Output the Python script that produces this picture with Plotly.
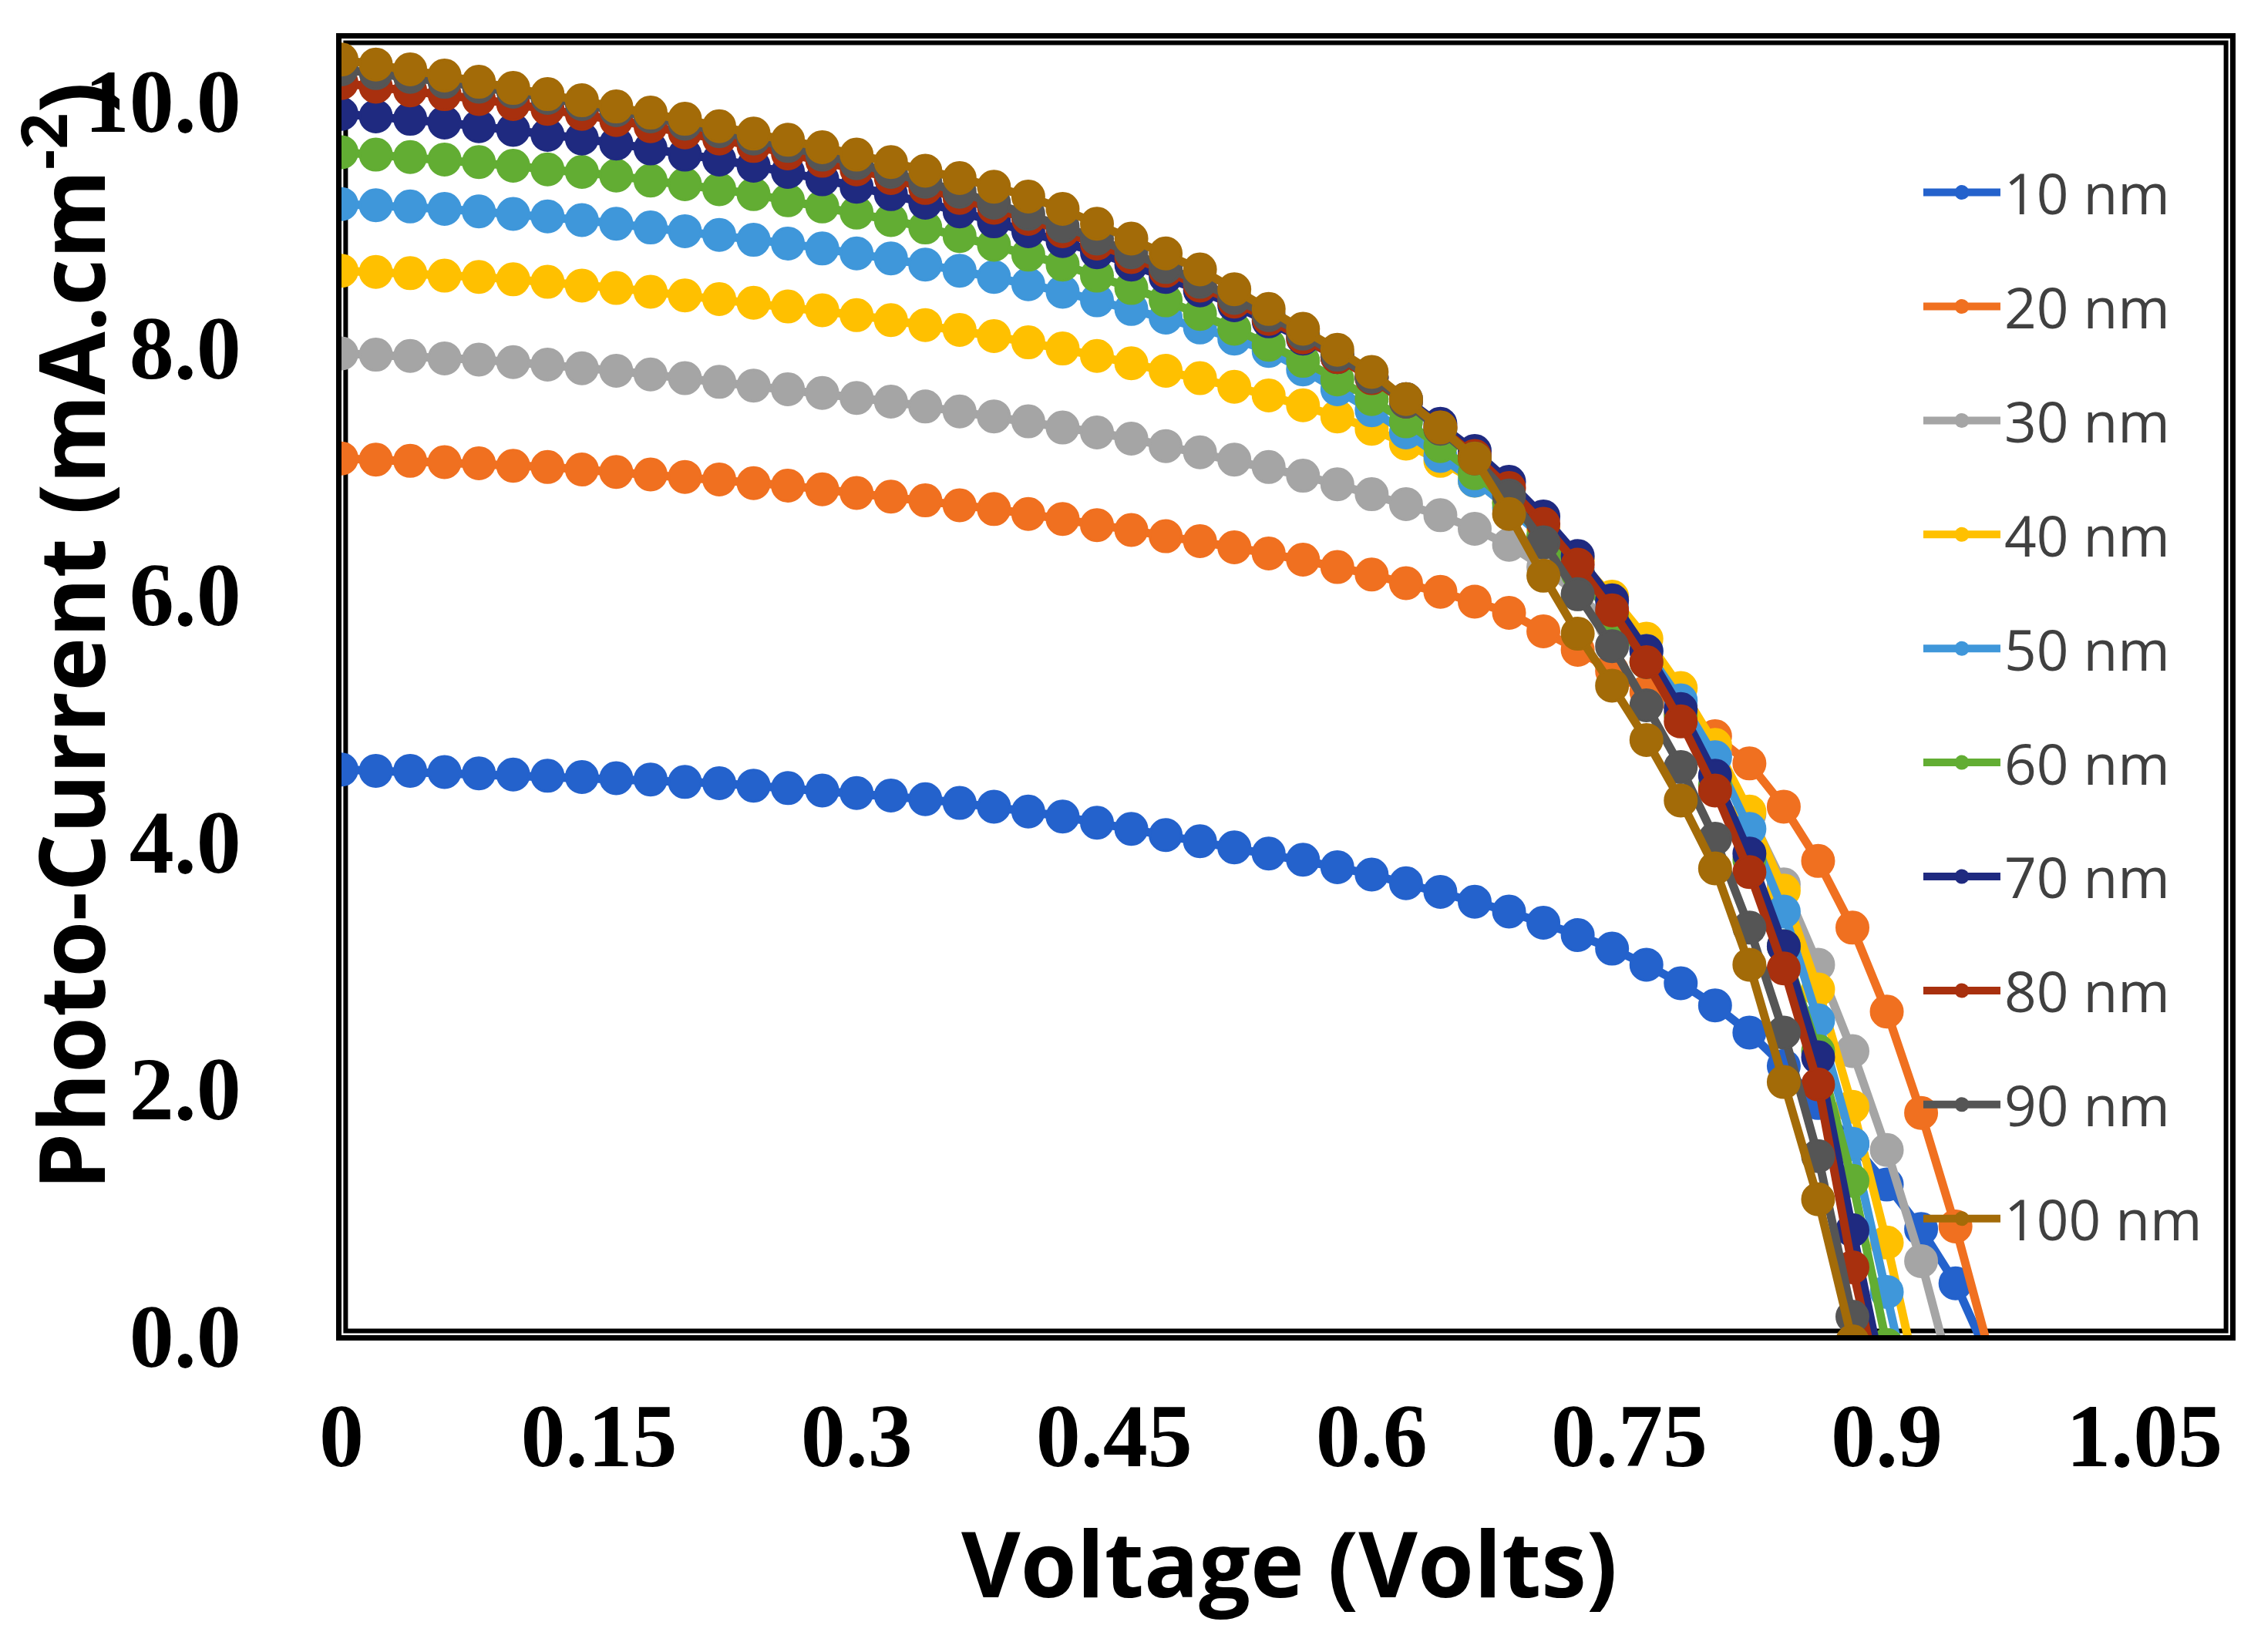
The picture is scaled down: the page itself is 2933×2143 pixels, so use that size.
import plotly.graph_objects as go

# voltage grid (V)
voltage = [0.00, 0.02, 0.04, 0.06, 0.08, 0.10, 0.12, 0.14, 0.16, 0.18,
           0.20, 0.22, 0.24, 0.26, 0.28, 0.30, 0.32, 0.34, 0.36, 0.38,
           0.40, 0.42, 0.44, 0.46, 0.48, 0.50, 0.52, 0.54, 0.56, 0.58,
           0.60, 0.62, 0.64, 0.66, 0.68, 0.70, 0.72, 0.74, 0.76, 0.78,
           0.80, 0.82, 0.84, 0.86, 0.88, 0.90, 0.92, 0.94, 0.96]

# photo-current (mA/cm2)
j_10nm = [4.58, 4.57, 4.57, 4.56, 4.55, 4.54, 4.53, 4.52, 4.51, 4.50,
          4.48, 4.47, 4.45, 4.43, 4.41, 4.39, 4.37, 4.34, 4.31, 4.28,
          4.24, 4.20, 4.15, 4.10, 4.05, 4.00, 3.95, 3.90, 3.85, 3.79,
          3.73, 3.66, 3.59, 3.51, 3.43, 3.34, 3.24, 3.13, 3.00, 2.85,
          2.67, 2.45, 2.18, 1.88, 1.55, 1.22, 0.86, 0.42, -0.20]
j_20nm = [7.10, 7.09, 7.08, 7.07, 7.06, 7.04, 7.03, 7.01, 6.99, 6.97,
          6.95, 6.93, 6.90, 6.88, 6.85, 6.82, 6.79, 6.76, 6.72, 6.69,
          6.65, 6.61, 6.56, 6.52, 6.47, 6.43, 6.38, 6.33, 6.28, 6.22,
          6.16, 6.09, 6.02, 5.94, 5.85, 5.70, 5.55, 5.38, 5.21, 5.03,
          4.85, 4.63, 4.28, 3.84, 3.30, 2.62, 1.80, 0.88, -0.15]
j_30nm = [7.95, 7.94, 7.93, 7.91, 7.90, 7.88, 7.86, 7.83, 7.81, 7.78,
          7.75, 7.72, 7.69, 7.66, 7.63, 7.59, 7.56, 7.52, 7.48, 7.44,
          7.40, 7.35, 7.31, 7.26, 7.20, 7.15, 7.09, 7.03, 6.96, 6.89,
          6.81, 6.73, 6.64, 6.53, 6.40, 6.22, 6.00, 5.75, 5.45, 5.10,
          4.70, 4.22, 3.65, 3.00, 2.30, 1.50, 0.60, -0.45]
j_40nm = [8.62, 8.61, 8.60, 8.58, 8.57, 8.55, 8.53, 8.50, 8.48, 8.45,
          8.42, 8.39, 8.36, 8.33, 8.30, 8.26, 8.22, 8.18, 8.14, 8.09,
          8.04, 7.99, 7.93, 7.87, 7.81, 7.75, 7.68, 7.61, 7.53, 7.44,
          7.34, 7.22, 7.08, 6.92, 6.74, 6.53, 6.28, 5.98, 5.64, 5.24,
          4.78, 4.24, 3.60, 2.80, 1.85, 0.75, -0.50]
j_50nm = [9.16, 9.15, 9.14, 9.12, 9.10, 9.08, 9.06, 9.03, 9.00, 8.97,
          8.94, 8.91, 8.87, 8.84, 8.80, 8.76, 8.72, 8.67, 8.62, 8.57,
          8.51, 8.45, 8.38, 8.31, 8.24, 8.16, 8.07, 7.97, 7.82, 7.66,
          7.49, 7.31, 7.12, 6.92, 6.70, 6.46, 6.19, 5.89, 5.54, 5.14,
          4.68, 4.10, 3.43, 2.55, 1.55, 0.35, -0.90]
j_60nm = [9.58, 9.56, 9.54, 9.52, 9.50, 9.47, 9.44, 9.42, 9.39, 9.35,
          9.32, 9.28, 9.24, 9.19, 9.14, 9.09, 9.03, 8.97, 8.90, 8.83,
          8.75, 8.67, 8.58, 8.48, 8.38, 8.27, 8.15, 8.02, 7.89, 7.74,
          7.58, 7.40, 7.20, 6.98, 6.74, 6.47, 6.17, 5.83, 5.45, 5.02,
          4.45, 3.85, 3.15, 2.30, 1.25, -0.08]
j_70nm = [9.89, 9.87, 9.85, 9.82, 9.79, 9.76, 9.72, 9.69, 9.65, 9.61,
          9.56, 9.52, 9.47, 9.42, 9.36, 9.30, 9.24, 9.17, 9.10, 9.02,
          8.94, 8.86, 8.77, 8.67, 8.57, 8.46, 8.34, 8.21, 8.07, 7.92,
          7.76, 7.58, 7.38, 7.16, 6.91, 6.63, 6.31, 5.95, 5.54, 5.07,
          4.53, 3.90, 3.15, 2.25, 0.85, -0.50]
j_80nm = [10.14, 10.11, 10.08, 10.05, 10.01, 9.97, 9.93, 9.89, 9.84, 9.79,
          9.74, 9.69, 9.63, 9.57, 9.51, 9.44, 9.37, 9.29, 9.21, 9.13,
          9.04, 8.94, 8.84, 8.73, 8.62, 8.50, 8.37, 8.23, 8.08, 7.92,
          7.75, 7.56, 7.35, 7.12, 6.86, 6.57, 6.24, 5.87, 5.45, 4.97,
          4.41, 3.75, 2.97, 2.03, 0.55, -0.70]
j_90nm = [10.25, 10.22, 10.19, 10.15, 10.11, 10.07, 10.02, 9.97, 9.92, 9.87,
          9.81, 9.75, 9.69, 9.63, 9.56, 9.49, 9.42, 9.34, 9.26, 9.17,
          9.08, 8.98, 8.88, 8.77, 8.65, 8.53, 8.40, 8.26, 8.11, 7.94,
          7.76, 7.56, 7.34, 7.10, 6.80, 6.42, 6.00, 5.58, 5.10, 4.60,
          4.02, 3.30, 2.45, 1.45, 0.15, -1.00]
j_100nm = [10.33, 10.29, 10.25, 10.20, 10.15, 10.10, 10.05, 10.00, 9.95, 9.90,
           9.85, 9.79, 9.73, 9.68, 9.62, 9.56, 9.50, 9.43, 9.37, 9.30,
           9.22, 9.12, 9.00, 8.88, 8.76, 8.63, 8.47, 8.31, 8.15, 7.98,
           7.80, 7.58, 7.35, 7.10, 6.65, 6.15, 5.68, 5.26, 4.82, 4.33,
           3.78, 3.00, 2.05, 1.10, -0.05]

series_names = ["10 nm", "20 nm", "30 nm", "40 nm", "50 nm",
                "60 nm", "70 nm", "80 nm", "90 nm", "100 nm"]
series_values = [j_10nm, j_20nm, j_30nm, j_40nm, j_50nm,
                 j_60nm, j_70nm, j_80nm, j_90nm, j_100nm]
series_colors = ["#2462CC", "#F07020", "#A5A5A5", "#FFC000", "#3F97DA",
                 "#62AD33", "#1F2A80", "#A8300E", "#555555", "#A36B08"]

fig = go.Figure()
for name, values, color in zip(series_names, series_values, series_colors):
    fig.add_trace(go.Scatter(
        x=voltage[:len(values)], y=values, name=name, legendgroup=name,
        mode="lines+markers", cliponaxis=True,
        line=dict(color=color, width=11),
        marker=dict(symbol="circle", size=41, color=color,
                    line=dict(color=color, width=3))))

tick_font = dict(family="Liberation Serif", size=116, color="black", weight="bold")
title_font = dict(family="Open Sans", size=118, color="black", weight="bold")

fig.update_layout(
    width=2933, height=2143,
    margin=dict(l=443, r=40, t=50, b=411),
    paper_bgcolor="white", plot_bgcolor="white",
    showlegend=True,
    legend=dict(x=0.8355, y=0.9134, xanchor="left", yanchor="top",
                bgcolor="rgba(0,0,0,0)", borderwidth=0,
                font=dict(family="Open Sans", size=73, color="#404040"),
                itemwidth=100, tracegroupgap=50),
    xaxis=dict(range=[0, 1.1], tick0=0, dtick=0.15, showgrid=False, zeroline=False,
               showline=True, linecolor="black", linewidth=7, mirror=True,
               ticks="", ticklabelstandoff=24, tickfont=tick_font),
    yaxis=dict(range=[0, 10.5], tick0=0, dtick=2, tickformat=".1f",
               showgrid=False, zeroline=False,
               showline=True, linecolor="black", linewidth=7, mirror=True,
               ticks="", ticklabelstandoff=100, tickfont=tick_font),
    shapes=[dict(type="rect", xref="paper", yref="paper",
                 x0=0.0022, x1=0.9978, y0=0.0033, y1=0.9967,
                 line=dict(color="black", width=6), layer="below")],
    annotations=[
        dict(text="Voltage (Volts)", xref="paper", yref="paper",
             x=0.502, y=-0.175, xanchor="center", yanchor="middle",
             showarrow=False, font=title_font),
        dict(text="Photo-Current (mA.cm<sup>-2</sup>)", xref="paper", yref="paper",
             x=-0.146, y=0.539, xanchor="center", yanchor="middle",
             textangle=-90, showarrow=False, font=title_font),
    ],
)

fig.write_html("out.html", config={"displayModeBar": False},
               post_script="document.body.style.margin='0px';")
